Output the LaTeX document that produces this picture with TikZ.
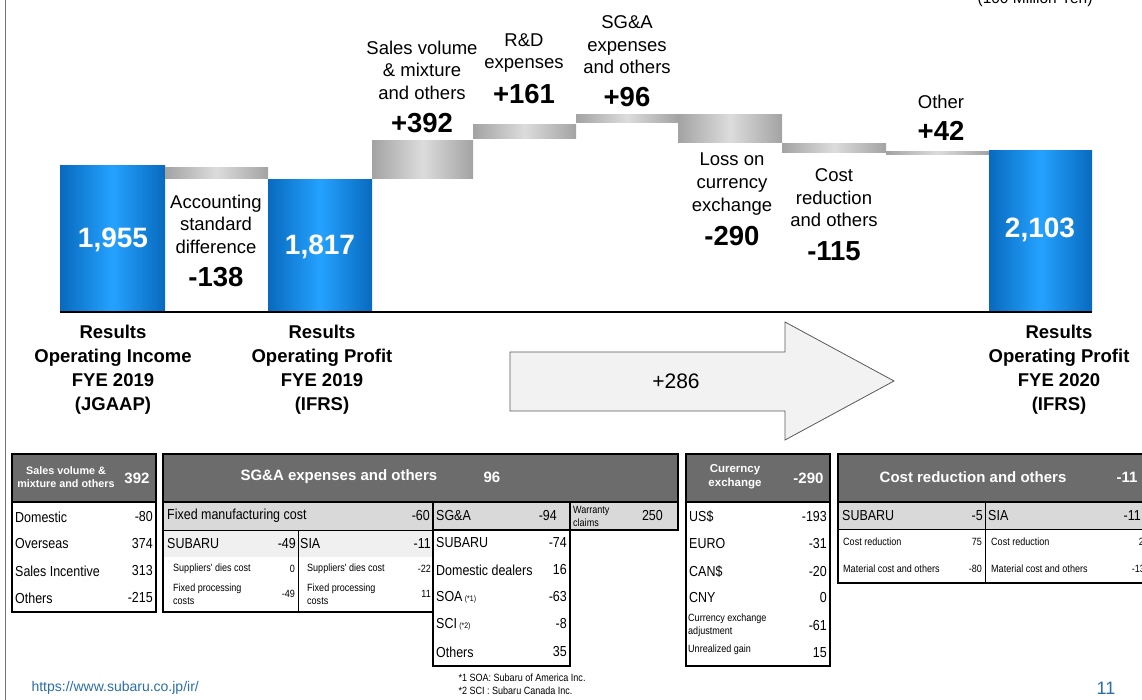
\documentclass[tikz,border=0pt]{standalone}
\usepackage{fontspec}
\setmainfont{Liberation Sans}
\newfontfamily\cellfamily{Liberation Sans}[FakeStretch=0.86]
\usepackage{tikz}
\usetikzlibrary{positioning}

\definecolor{barblue}{RGB}{8,106,190}
\definecolor{barbright}{RGB}{36,162,255}
\definecolor{stepgray}{RGB}{163,163,163}
\definecolor{steplight}{RGB}{220,220,220}
\definecolor{headgray}{RGB}{108,108,108}
\definecolor{rowgray}{RGB}{217,217,217}
\definecolor{rowlight}{RGB}{240,240,240}
\definecolor{arrowfill}{RGB}{242,242,242}
\definecolor{linkblue}{RGB}{40,110,170}

\newcommand{\fsz}[2]{\fontsize{#1}{#2}\selectfont}

\begin{document}
\begin{tikzpicture}[x=1pt,y=-1pt,
    total/.style={left color=barblue, right color=barblue, middle color=barbright},
    stepbar/.style={left color=stepgray, right color=stepgray, middle color=steplight},
    barnum/.style={font=\bfseries\fsz{28}{30}, text=white},
    desc/.style={font=\fsz{18.5}{22.6}, align=center},
    delta/.style={font=\bfseries\fsz{27.5}{30}},
    result/.style={font=\bfseries\fsz{18.5}{24}, align=center},
    head/.style={fill=headgray, draw=black, line width=1.2pt},
    box/.style={draw=black, line width=1.2pt},
    rule/.style={draw=black, line width=0.9pt},
    htext/.style={text=white, font=\bfseries\fsz{15}{17}},
    hsmall/.style={text=white, font=\bfseries\fsz{11.5}{14}, align=center},
    cname/.style={anchor=west, inner sep=0pt, font=\cellfamily\fsz{14.5}{16}},
    cval/.style={anchor=east, inner sep=0pt, font=\cellfamily\fsz{14.5}{16}},
    sname/.style={anchor=west, inner sep=0pt, font=\cellfamily\fsz{10.5}{13}, align=left},
    sval/.style={anchor=east, inner sep=0pt, font=\cellfamily\fsz{10.5}{13}}]
    \useasboundingbox (0,0) rectangle (1142,700);

    % Page edge and unit
    \draw[black!55, line width=0.8pt] (5,0) -- (5,700);
    \node[anchor=base east, font=\fsz{15.5}{17}] (unit) at (1096,4) {(100 Million Yen)};

    % Waterfall
    \shade[total] (60,166) rectangle (165,312);
    \node[barnum] (jgaap) at (113,240) {1,955};

    \shade[stepbar] (165,168) rectangle (268,179);
    \node[desc] (accdesc) at (216,224) {Accounting\\standard\\difference};
    \node[delta] (accval) at (216,277) {-138};

    \shade[total] (268,180) rectangle (372,312);
    \node[barnum] (ifrs19) at (320,247) {1,817};

    \shade[stepbar] (372,141) rectangle (473,179);
    \node[desc] (saledesc) at (422,70) {Sales volume\\\& mixture\\and others};
    \node[delta] (saleval) at (422,123) {+392};

    \shade[stepbar] (473,125) rectangle (576,139);
    \node[desc] (rddesc) at (524,53) {R\&D\\expenses};
    \node[delta] (rdval) at (524,94) {+161};

    \shade[stepbar] (576,115) rectangle (678,123);
    \node[desc] (sgadesc) at (627,45) {SG\&A\\expenses\\and others};
    \node[delta] (sgaval) at (627,97) {+96};

    \shade[stepbar] (678,115) rectangle (782,143);
    \node[desc] (fxdesc) at (732,184) {Loss on\\currency\\exchange};
    \node[delta] (fxval) at (732,236) {-290};

    \shade[stepbar] (782,144) rectangle (886,153);
    \node[desc] (costdesc) at (834,198) {Cost\\reduction\\and others};
    \node[delta] (costval) at (834,251) {-115};

    \shade[stepbar] (886,152) rectangle (989,155);
    \node[desc] (otherdesc) at (941,102) {Other};
    \node[delta] (otherval) at (941,131) {+42};

    \shade[total] (989,151) rectangle (1092,312);
    \node[barnum] (ifrs20) at (1040,230) {2,103};

    % Axis
    \coordinate (axisL) at (60,312);
    \coordinate (axisR) at (1092,312);
    \draw[line width=2.5pt] (axisL) -- (axisR);

    % Bar captions
    \node[result] (res1) at (113,370) {Results\\Operating Income\\FYE 2019\\(JGAAP)};
    \node[result] (res2) at (322,370) {Results\\Operating Profit\\FYE 2019\\(IFRS)};
    \node[result] (res3) at (1059,370) {Results\\Operating Profit\\FYE 2020\\(IFRS)};

    % Change arrow
    \filldraw[fill=arrowfill, draw=black!65, line width=0.8pt]
        (510,352) -- (785,352) -- (785,322) -- (894,381) -- (785,440) -- (785,411) -- (510,411) -- cycle;
    \node[font=\fsz{21}{24}] (growth) at (676,381) {+286};

    % Sales volume table
    \begin{scope}[shift={(12,454)}]
        \draw[head] (0,0) rectangle (144,48);
        \draw[box] (0,48) rectangle (144,158);
        \node[hsmall, font=\bfseries\fsz{10.8}{13}] (svhead) at (54,23) {Sales volume \&\\mixture and others};
        \node[htext, anchor=east] (svtotal) at (141,24) {392};
        \node[cname] (sv1) at (3,63) {Domestic};        \node[cval] (sv1v) at (141,63) {-80};
        \node[cname] (sv2) at (3,90) {Overseas};        \node[cval] (sv2v) at (141,90) {374};
        \node[cname] (sv3) at (3,117) {Sales Incentive}; \node[cval] (sv3v) at (141,117) {313};
        \node[cname] (sv4) at (3,144) {Others};          \node[cval] (sv4v) at (141,144) {-215};
    \end{scope}

    % SG&A table
    \begin{scope}[shift={(163,454)}]
        \draw[head] (0,0) rectangle (515,48);
        \fill[rowgray] (0,48) rectangle (270,76);
        \fill[rowlight] (0,76) rectangle (270,103);
        \draw[box] (0,48) rectangle (270,158);
        \draw[rule] (0,76) -- (270,76);
        \draw[rule] (135,76) -- (135,158);
        \draw[box, fill=rowgray] (270,48) rectangle (407,76);
        \draw[box] (270,76) rectangle (407,212);
        \draw[box, fill=rowgray] (407,48) rectangle (515,76);
        \node[htext, anchor=west] (sgahead) at (74,23) {SG\&A expenses and others};
        \node[htext, anchor=west] (sgatotal) at (317,23) {96};

        \node[cname] (fix) at (4,62) {Fixed manufacturing cost}; \node[cval] (fixv) at (267,62) {-60};
        \node[cname] (fixs) at (4,90) {SUBARU};  \node[cval] (fixsv) at (133,90) {-49};
        \node[cname] (fixa) at (137,90) {SIA};   \node[cval] (fixav) at (268,90) {-11};
        \node[sname] (dies1) at (10,115) {Suppliers' dies cost};   \node[sval] (dies1v) at (132,115) {0};
        \node[sname] (dies2) at (144,115) {Suppliers' dies cost};  \node[sval] (dies2v) at (268,115) {-22};
        \node[sname] (proc1) at (10,140) {Fixed processing\\costs}; \node[sval] (proc1v) at (132,140) {-49};
        \node[sname] (proc2) at (144,140) {Fixed processing\\costs}; \node[sval] (proc2v) at (268,140) {11};

        \node[cname] (sga) at (273,62) {SG\&A};  \node[cval] (sgav) at (394,62) {-94};
        \node[sname] (warr) at (410,62) {Warranty\\claims}; \node[cval] (warrv) at (500,62) {250};
        \node[cname] (sga1) at (273,89) {SUBARU};            \node[cval] (sga1v) at (404,89) {-74};
        \node[cname] (sga2) at (273,116) {Domestic dealers}; \node[cval] (sga2v) at (404,116) {16};
        \node[cname] (sga3) at (273,143) {SOA\,{\fsz{8}{9}(*1)}}; \node[cval] (sga3v) at (404,143) {-63};
        \node[cname] (sga4) at (273,170) {SCI\,{\fsz{8}{9}(*2)}}; \node[cval] (sga4v) at (404,170) {-8};
        \node[cname] (sga5) at (273,198) {Others};           \node[cval] (sga5v) at (404,198) {35};
    \end{scope}

    % Currency table
    \begin{scope}[shift={(686,454)}]
        \draw[head] (0,0) rectangle (144,48);
        \draw[box] (0,48) rectangle (144,212);
        \node[hsmall] (fxhead) at (49,23) {Curerncy\\exchange};
        \node[htext, anchor=east] (fxtotal) at (141,24) {-290};
        \node[cname] (fx1) at (3,63) {US\$};  \node[cval] (fx1v) at (141,63) {-193};
        \node[cname] (fx2) at (3,90) {EURO};  \node[cval] (fx2v) at (141,90) {-31};
        \node[cname] (fx3) at (3,118) {CAN\$}; \node[cval] (fx3v) at (141,118) {-20};
        \node[cname] (fx4) at (3,144) {CNY};   \node[cval] (fx4v) at (141,144) {0};
        \node[sname] (fx5) at (2,171) {Currency exchange\\adjustment}; \node[cval] (fx5v) at (141,172) {-61};
        \node[sname] (fx6) at (2,196) {Unrealized gain}; \node[cval] (fx6v) at (141,199) {15};
    \end{scope}

    % Cost reduction table
    \begin{scope}[shift={(838,454)}]
        \draw[head] (0,0) rectangle (320,48);
        \fill[rowgray] (0,48) rectangle (320,75);
        \draw[box] (0,48) rectangle (320,129);
        \draw[rule] (0,75) -- (320,75);
        \draw[rule] (147,48) -- (147,129);
        \node[htext] (costhead) at (135,23) {Cost reduction and others};
        \node[htext, anchor=east] (costtotal) at (303,23) {-11};
        \node[cname] (cr1) at (4,62) {SUBARU}; \node[cval] (cr1v) at (145,62) {-5};
        \node[cname] (cr2) at (150,62) {SIA};  \node[cval] (cr2v) at (303,62) {-11};
        \node[sname] (cr3) at (5,88) {Cost reduction};            \node[sval] (cr3v) at (144,88) {75};
        \node[sname] (cr4) at (5,115) {Material cost and others}; \node[sval] (cr4v) at (144,115) {-80};
        \node[sname] (cr5) at (153,88) {Cost reduction};            \node[sval] (cr5v) at (306,88) {2};
        \node[sname] (cr6) at (153,115) {Material cost and others}; \node[sval] (cr6v) at (307,115) {-13};
    \end{scope}

    % Footer
    \node[anchor=west, text=linkblue, font=\fsz{14}{16}] (url) at (28,688) {https://www.subaru.co.jp/ir/};
    \node[anchor=west, font=\cellfamily\fsz{10.5}{12.5}, align=left] (notes) at (455,684) {*1 SOA: Subaru of America Inc.\\*2 SCI : Subaru Canada Inc.};
    \node[text=linkblue, font=\fsz{18}{20}] (page) at (1106,688) {11};
\end{tikzpicture}
\end{document}
